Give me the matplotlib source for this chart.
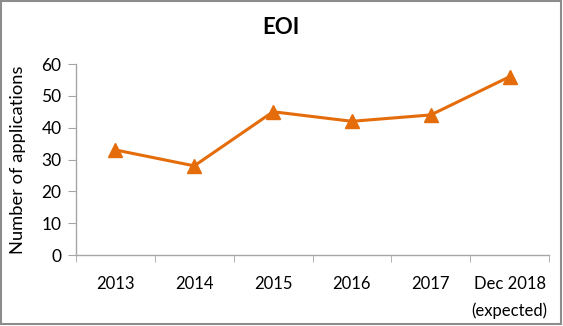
import matplotlib.pyplot as plt
from matplotlib.patches import Rectangle

categories = ['2013', '2014', '2015', '2016', '2017', 'Dec 2018\n(expected)']
applications = [33, 28, 45, 42, 44, 56]

plt.rcParams['font.family'] = ['Lato', 'DejaVu Sans']

fig = plt.figure(figsize=(5.63, 3.26), dpi=100)
ax = fig.add_axes([76 / 563, 71 / 326, 473 / 563, 191 / 326])

x = list(range(len(categories)))
ax.plot(x, applications, color='#E46C0A', linewidth=2.2,
        marker='^', markersize=10, markeredgecolor='#E46C0A')

# category axis: ticks sit between categories
ax.set_xlim(-0.5, len(categories) - 0.5)
ax.set_xticks(x)
ax.set_xticklabels(categories, fontsize=12, linespacing=1.75)
ax.set_xticks([i - 0.5 for i in range(len(categories) + 1)], minor=True)
ax.tick_params(axis='x', which='major', length=0, pad=15)
ax.tick_params(axis='x', which='minor', length=5, color='#A6A6A6', direction='out')

ax.set_ylim(0, 60)
ax.set_yticks(range(0, 61, 10))
ax.tick_params(axis='y', labelsize=12.5, length=5.5, color='#A6A6A6', pad=5)
ax.set_ylabel('Number of applications', fontsize=13.2)
ax.yaxis.set_label_coords(-50 / 473, 0.5)

for side in ['top', 'right']:
    ax.spines[side].set_visible(False)
for side in ['left', 'bottom']:
    ax.spines[side].set_color('#A6A6A6')
    ax.spines[side].set_linewidth(1)

fig.text(281 / 563, 1 - 27 / 326, 'EOI', ha='center', va='center', fontsize=16, fontweight='bold')

# outer chart border
fig.patches.append(Rectangle((0.002, 0.006), 0.994, 0.991, transform=fig.transFigure,
                             fill=False, edgecolor='#8C8C8C', linewidth=1.5))

fig.savefig('out.png', dpi=100)
